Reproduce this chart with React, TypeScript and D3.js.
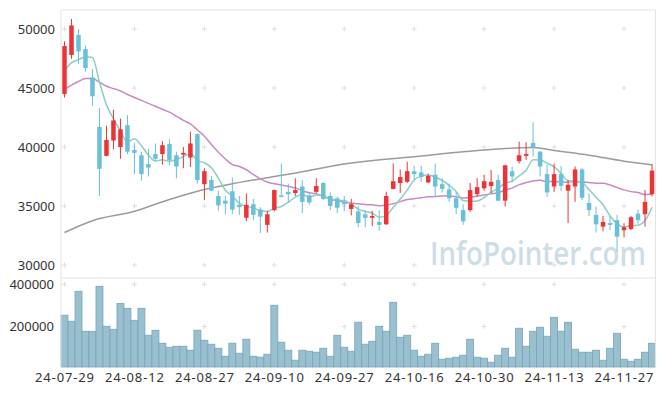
import React from "react";
import * as d3 from "d3";

// ---- data ----
const opens = [44500,47800,49500,48300,45900,41700,39250,40550,40000,41850,39750,39300,38550,39400,39400,40250,39300,39350,39100,41100,36850,37200,35850,35450,36250,35100,34000,35150,34700,33400,34650,35900,36200,36100,36650,35900,36200,36950,35850,35650,35300,34750,34550,34300,34000,33650,33450,36450,36950,37050,37950,37850,37000,37650,36850,36400,35650,34650,34650,36000,36500,36700,37200,35450,37950,38800,39250,40350,39600,37700,36650,37700,36300,36650,38100,35250,34250,33250,33550,33800,32950,33050,34350,34300,36000];
const highs = [48950,50850,50000,48600,46600,43300,41800,43150,42400,42700,40350,39600,39850,40300,40500,40650,39600,40000,41300,41150,38200,37550,36300,35850,37400,35850,36050,35600,34900,34600,36400,38600,36900,37350,37200,36200,37350,37000,36150,35800,35850,35600,35000,34650,34600,34650,36200,38600,38100,38750,38400,38400,37750,38600,37350,36900,36200,35150,36950,37350,37650,38050,37650,38500,38350,40450,40400,42100,39650,38500,38600,38400,37200,38350,38200,36050,34950,34150,34150,34250,33550,34150,34700,36350,38550];
const lows = [44200,47480,47050,46400,43500,35850,39200,39800,39000,39400,37700,37150,37500,38800,38500,38450,37350,38200,38300,36900,35500,36250,34600,34300,34300,34250,33700,33800,32700,32750,34550,35750,35300,35850,34400,35100,36100,35500,34650,34400,34550,34200,33200,33200,33300,32900,33400,36400,36100,36950,37200,37050,36950,35800,36150,35350,34300,33400,34500,35800,36300,36100,35400,34950,37000,38600,38900,39200,37500,35750,36200,36250,33550,35350,35500,34150,32750,32850,32950,31150,32350,32950,33500,33250,35800];
const closes = [48550,50300,48100,46700,44300,38150,40600,42250,41500,39600,39500,37700,38250,39000,40150,38900,38350,39500,40300,37200,37950,36300,35050,35200,34700,34900,35100,34250,34100,34300,36350,35800,36000,36350,35350,35300,36700,35600,35000,34850,35150,35150,33550,34000,34150,33400,35850,37100,37450,37950,37700,37450,37550,36650,36450,35650,34850,33700,36350,36600,37100,37050,35450,38450,37500,39300,39400,39950,38350,36150,37700,36700,36800,38100,35700,34650,33450,33650,33400,32400,33200,34050,33800,35350,38000];
const volumes = [254000,225500,367000,178300,178000,390600,201900,187700,310000,286800,230000,286800,159400,183000,121700,102800,107500,107500,88700,183000,135800,117000,98100,60400,121700,74500,140600,60400,55700,69800,301000,126400,88700,41500,88700,84000,79300,98100,60400,159400,102800,84000,220800,117000,131100,201900,178300,315100,150000,159400,88700,60400,69800,121700,46200,50900,55700,65100,140600,55700,50900,32100,65100,98100,55700,192500,107500,178300,197200,154700,244300,178300,220800,93400,79300,79300,88700,41500,98100,168900,46200,36800,46200,79300,121700];

// moving-average values before enough history is on screen
const ma5Head = [46450, 47150, 47400, 47650];
const ma20Head = [44900,45250,45550,45800,45800,45500,45150,44950,44750,44450,44200,43950,43700,43450,43200,42950,42600,42250,41950];
// long moving average (grey), read at these candle indices
const maLongIdx = [0,4,10,15,20,24,29,32,41,51,57,60,67,70,75,80,84];
const maLongVal = [32750,33750,34550,35550,36400,36880,37400,37700,38650,39240,39600,39750,39950,39700,39300,38800,38500];

const xTickLabels = ["24-07-29","24-08-12","24-08-27","24-09-10","24-09-27","24-10-16","24-10-30","24-11-13","24-11-27"];
const priceTicks = [30000, 35000, 40000, 45000, 50000];
const volTicks = [200000, 400000];

const W = 665, H = 396;
const L = 61, R = 655.5, T = 10, PB = 278, VB = 367;
const UP = "#ec3437", DOWN = "#69c0d9";
const FONT = "'Noto Sans', 'Open Sans', sans-serif";

function movingAvg(n: number, head: number[]) {
  return closes.map((_, i) => (i < n - 1 ? head[i] : d3.mean(closes.slice(i - n + 1, i + 1)) as number));
}

export default function App() {
  const idx = d3.range(closes.length);
  const x = d3.scaleBand<number>().domain(idx).range([L, R]).padding(0);
  const step = x.step();
  const cx = (i: number) => (x(i) as number) + step / 2;
  const y = d3.scaleLinear().domain([30000, 50000]).range([265, 29]);
  const yv = d3.scaleLinear().domain([0, 400000]).range([369, 284.3]);

  const ma5 = movingAvg(5, ma5Head);
  const ma20 = movingAvg(20, ma20Head);
  const line = d3.line<number>().x((_, i) => cx(i)).y((d) => y(d)).curve(d3.curveMonotoneX);
  const longLine = d3.line<number>().x((_, k) => cx(maLongIdx[k])).y((d) => y(d)).curve(d3.curveMonotoneX);

  const xTickIdx = xTickLabels.map((_, k) => k * 10);
  const cw = 4.5;

  const crosses: [number, number][] = [];
  xTickIdx.forEach((i) => {
    priceTicks.forEach((p) => crosses.push([cx(i), y(p)]));
    volTicks.forEach((v) => crosses.push([cx(i), yv(v)]));
  });

  return (
    <svg width={W} height={H} style={{ position: "fixed", left: 0, top: 0, background: "#fff" }} fontFamily={FONT}>
      <rect x={0} y={0} width={W} height={H} fill="#fff" />
      {/* crosses */}
      {crosses.map(([px, py], k) => (
        <g key={"c" + k} stroke="#dedede" strokeWidth={1}>
          <line x1={px - 2.5} x2={px + 2.5} y1={py} y2={py} />
          <line x1={px} x2={px} y1={py - 2.5} y2={py + 2.5} />
        </g>
      ))}
      {/* watermark */}
      <text x={430} y={265} fontSize={32} fontWeight={600} fill="#cddde8" textLength={216} lengthAdjust="spacingAndGlyphs" fontFamily="'Open Sans', sans-serif">InfoPointer.com</text>
      {/* volume bars */}
      {volumes.map((v, i) => (
        <rect key={"v" + i} x={x(i) as number} y={yv(v)} width={step} height={VB - yv(v)} fill="#9ac0d0" stroke="#76a5b9" strokeWidth={0.8} />
      ))}
      {/* moving averages */}
      <path d={longLine(maLongVal) || ""} fill="none" stroke="#9b9b9b" strokeWidth={1.5} />
      <path d={line(ma20) || ""} fill="none" stroke="#c98ac4" strokeWidth={1.5} />
      <path d={line(ma5) || ""} fill="none" stroke="#8acfc4" strokeWidth={1.5} />
      {/* candles */}
      {closes.map((c, i) => {
        const o = opens[i];
        const col = c >= o ? UP : DOWN;
        const top = y(Math.max(o, c));
        const bot = y(Math.min(o, c));
        return (
          <g key={"k" + i}>
            <line x1={cx(i)} x2={cx(i)} y1={y(highs[i])} y2={y(lows[i])} stroke={col} strokeWidth={1} />
            <rect x={cx(i) - cw / 2} y={top} width={cw} height={Math.max(1.5, bot - top)} fill={col} />
          </g>
        );
      })}
      {/* frame */}
      <g stroke="#e3e3e3" strokeWidth={1} fill="none">
        <line x1={L} x2={R} y1={T} y2={T} />
        <line x1={L} x2={R} y1={PB} y2={PB} />
        <line x1={L} x2={L} y1={T} y2={VB} />
        <line x1={R} x2={R} y1={T} y2={VB} />
      </g>
      {/* axis labels */}
      {priceTicks.map((p) => (
        <text key={"p" + p} x={55} y={y(p) + 4.7} textAnchor="end" fontSize={13} fill="#333">{p}</text>
      ))}
      {volTicks.map((v) => (
        <text key={"vt" + v} x={54} y={yv(v) + 4.7} textAnchor="end" fontSize={13} fill="#333">{v}</text>
      ))}
      {xTickLabels.map((lab, k) => (
        <text key={"x" + k} x={cx(xTickIdx[k])} y={382} textAnchor="middle" fontSize={13} fill="#333" textLength={59} lengthAdjust="spacing">{lab}</text>
      ))}
    </svg>
  );
}
